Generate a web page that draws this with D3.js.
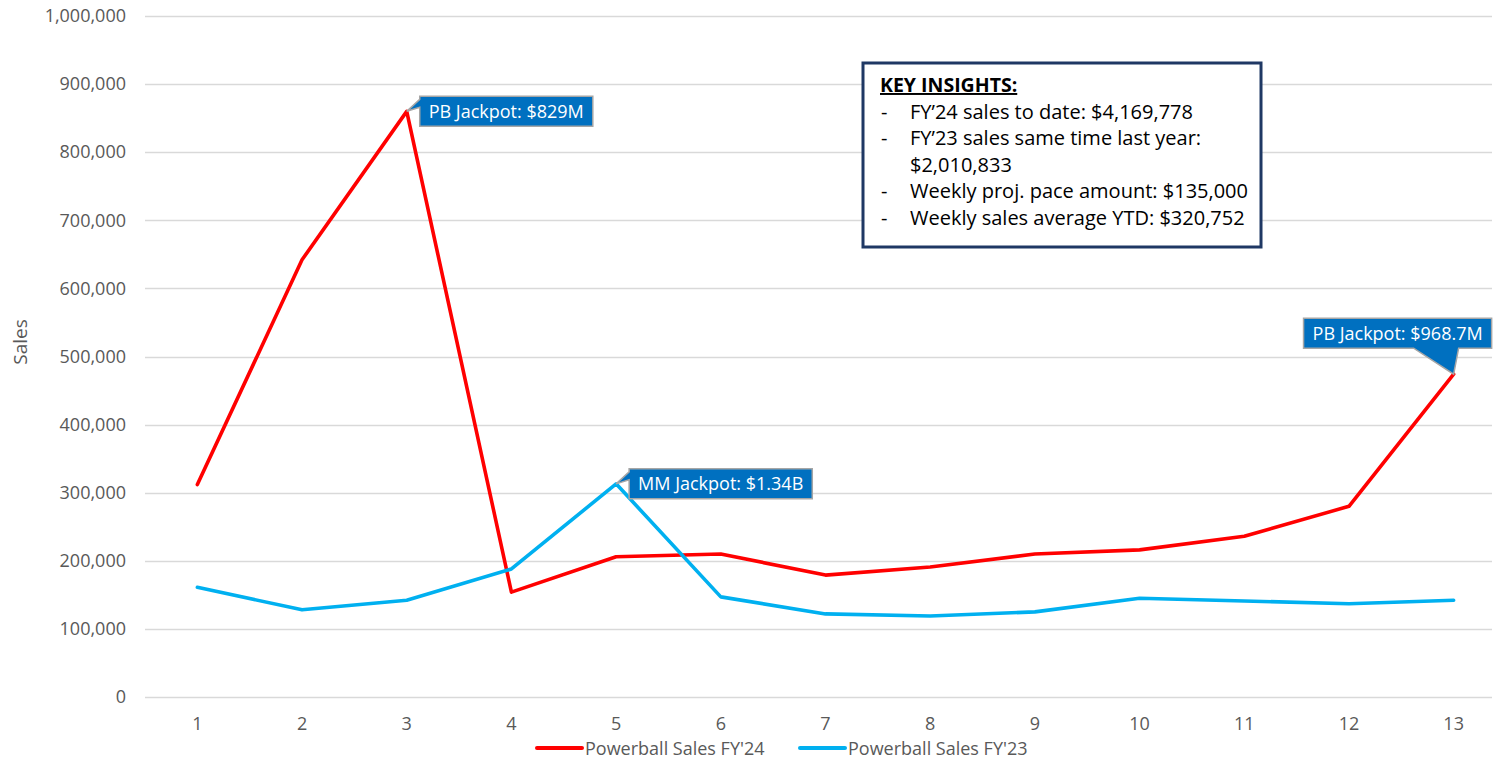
<!DOCTYPE html>
<html><head><meta charset="utf-8">
<script src="https://cdn.jsdelivr.net/npm/d3@7"></script>
<style>
body{margin:0;background:#fff;}
svg{display:block;font-family:"Open Sans",Lato,sans-serif;}
</style></head><body>
<svg id="chart" width="1499" height="759"></svg>
<script>
const weeks = ["1","2","3","4","5","6","7","8","9","10","11","12","13"];
const sales24 = [312000,642000,860000,154000,206000,210000,179000,191000,210000,216000,236000,280000,474000];
const sales23 = [161000,128000,142000,188000,313000,147000,122000,119000,125000,145000,141000,137000,142000];
const yTicks = [0,100000,200000,300000,400000,500000,600000,700000,800000,900000,1000000];
const seriesNames = ["Powerball Sales FY'24","Powerball Sales FY'23"];
const seriesColors = ["#FF0000","#00B0F0"];
const callouts = [
  {series:0, week:"3", text:"PB Jackpot: $829M"},
  {series:1, week:"5", text:"MM Jackpot: $1.34B"},
  {series:0, week:"13", text:"PB Jackpot: $968.7M"}
];
const insightsTitle = "KEY INSIGHTS:";
const insights = [
  ["-","FY\u201924 sales to date: $4,169,778"],
  ["-","FY\u201923 sales same time last year:"],
  ["","$2,010,833"],
  ["-","Weekly proj. pace amount: $135,000"],
  ["-","Weekly sales average YTD: $320,752"]
];

const svg = d3.select("#chart");
const pL=145, pR=1492, pT=16, pB=697;
const x = d3.scaleBand().domain(weeks).range([pL,1506]);
const y = d3.scaleLinear().domain([0,1000000]).range([pB,pT]);
const grey="#595959";

svg.append("g").selectAll("line").data(yTicks).join("line")
  .attr("x1",pL).attr("x2",pR)
  .attr("y1",d=>Math.round(y(d))+0.5).attr("y2",d=>Math.round(y(d))+0.5)
  .attr("stroke","#D9D9D9").attr("stroke-width",1.3);

const yAxis = svg.append("g").attr("transform",`translate(${pL},0)`)
  .call(d3.axisLeft(y).tickValues(yTicks).tickFormat(d3.format(",")).tickSize(0).tickPadding(19));
yAxis.select(".domain").remove();
yAxis.selectAll("text").attr("font-size",18).attr("fill",grey).attr("font-family","'Open Sans',sans-serif");

const xAxis = svg.append("g").attr("transform",`translate(0,${pB})`)
  .call(d3.axisBottom(x).tickSize(0).tickPadding(20));
xAxis.select(".domain").remove();
xAxis.selectAll("text").attr("font-size",18).attr("fill",grey).attr("font-family","'Open Sans',sans-serif");

svg.append("text").attr("transform","translate(27,342) rotate(-90)")
  .attr("text-anchor","middle").attr("font-size",19).attr("fill",grey).text("Sales");

const line = d3.line().x((d,i)=>x(weeks[i])+x.bandwidth()/2).y(d=>y(d));
const seriesData=[sales24,sales23];
seriesData.forEach((s,idx)=>{
  svg.append("path").datum(s).attr("d",line).attr("fill","none")
    .attr("stroke",seriesColors[idx]).attr("stroke-width",3.6)
    .attr("stroke-linejoin","round").attr("stroke-linecap","round");
});

const boxFill="#0070C0", boxStroke="#A6A6A6";
callouts.forEach((c,ci)=>{
  const px = x(c.week)+x.bandwidth()/2;
  const py = y(seriesData[c.series][weeks.indexOf(c.week)]);
  const g = svg.append("g");
  const t = g.append("text").attr("font-size",18).attr("fill","#fff").text(c.text);
  const tw = t.node().getComputedTextLength();
  const pad = 9;
  const w = tw+2*pad;
  const h = 30;
  let bx, by, path;
  if(ci<2){
    bx = px+13; by = py-15;
    path = `M${bx},${by} L${bx+w},${by} L${bx+w},${by+h} L${bx},${by+h} L${bx},${by+11} L${px},${py} L${bx},${by+3} Z`;
  } else {
    bx = px+38-w; by = py-56;
    path = `M${bx},${by} L${bx+w},${by} L${bx+w},${by+h} L${px+5},${by+h} L${px},${py} L${px-40},${by+h} L${bx},${by+h} Z`;
  }
  g.insert("path","text").attr("d",path).attr("fill",boxFill).attr("stroke",boxStroke).attr("stroke-width",1.5);
  t.attr("x",bx+pad).attr("y",by+h/2+6.5);
});

const ib = svg.append("g");
ib.append("rect").attr("x",863).attr("y",63).attr("width",398).attr("height",184)
  .attr("fill","#fff").attr("stroke","#1F3864").attr("stroke-width",3);
ib.append("text").attr("x",880).attr("y",92).attr("font-size",19.5).attr("font-weight","bold")
  .attr("fill","#000").attr("text-decoration","underline").text(insightsTitle);
insights.forEach((r,i)=>{
  const yy = 118.6+i*26.6;
  ib.append("text").attr("x",881).attr("y",yy).attr("font-size",20).attr("fill","#000").text(r[0]);
  ib.append("text").attr("x",910).attr("y",yy).attr("font-size",20).attr("fill","#000").text(r[1]);
});

const lg = svg.append("g");
const legX=[537,800];
seriesNames.forEach((n,i)=>{
  lg.append("line").attr("x1",legX[i]).attr("x2",legX[i]+45).attr("y1",748).attr("y2",748)
    .attr("stroke",seriesColors[i]).attr("stroke-width",4).attr("stroke-linecap","round");
  lg.append("text").attr("x",legX[i]+48).attr("y",754.5).attr("font-size",18).attr("fill",grey).text(n);
});
</script>
</body></html>
